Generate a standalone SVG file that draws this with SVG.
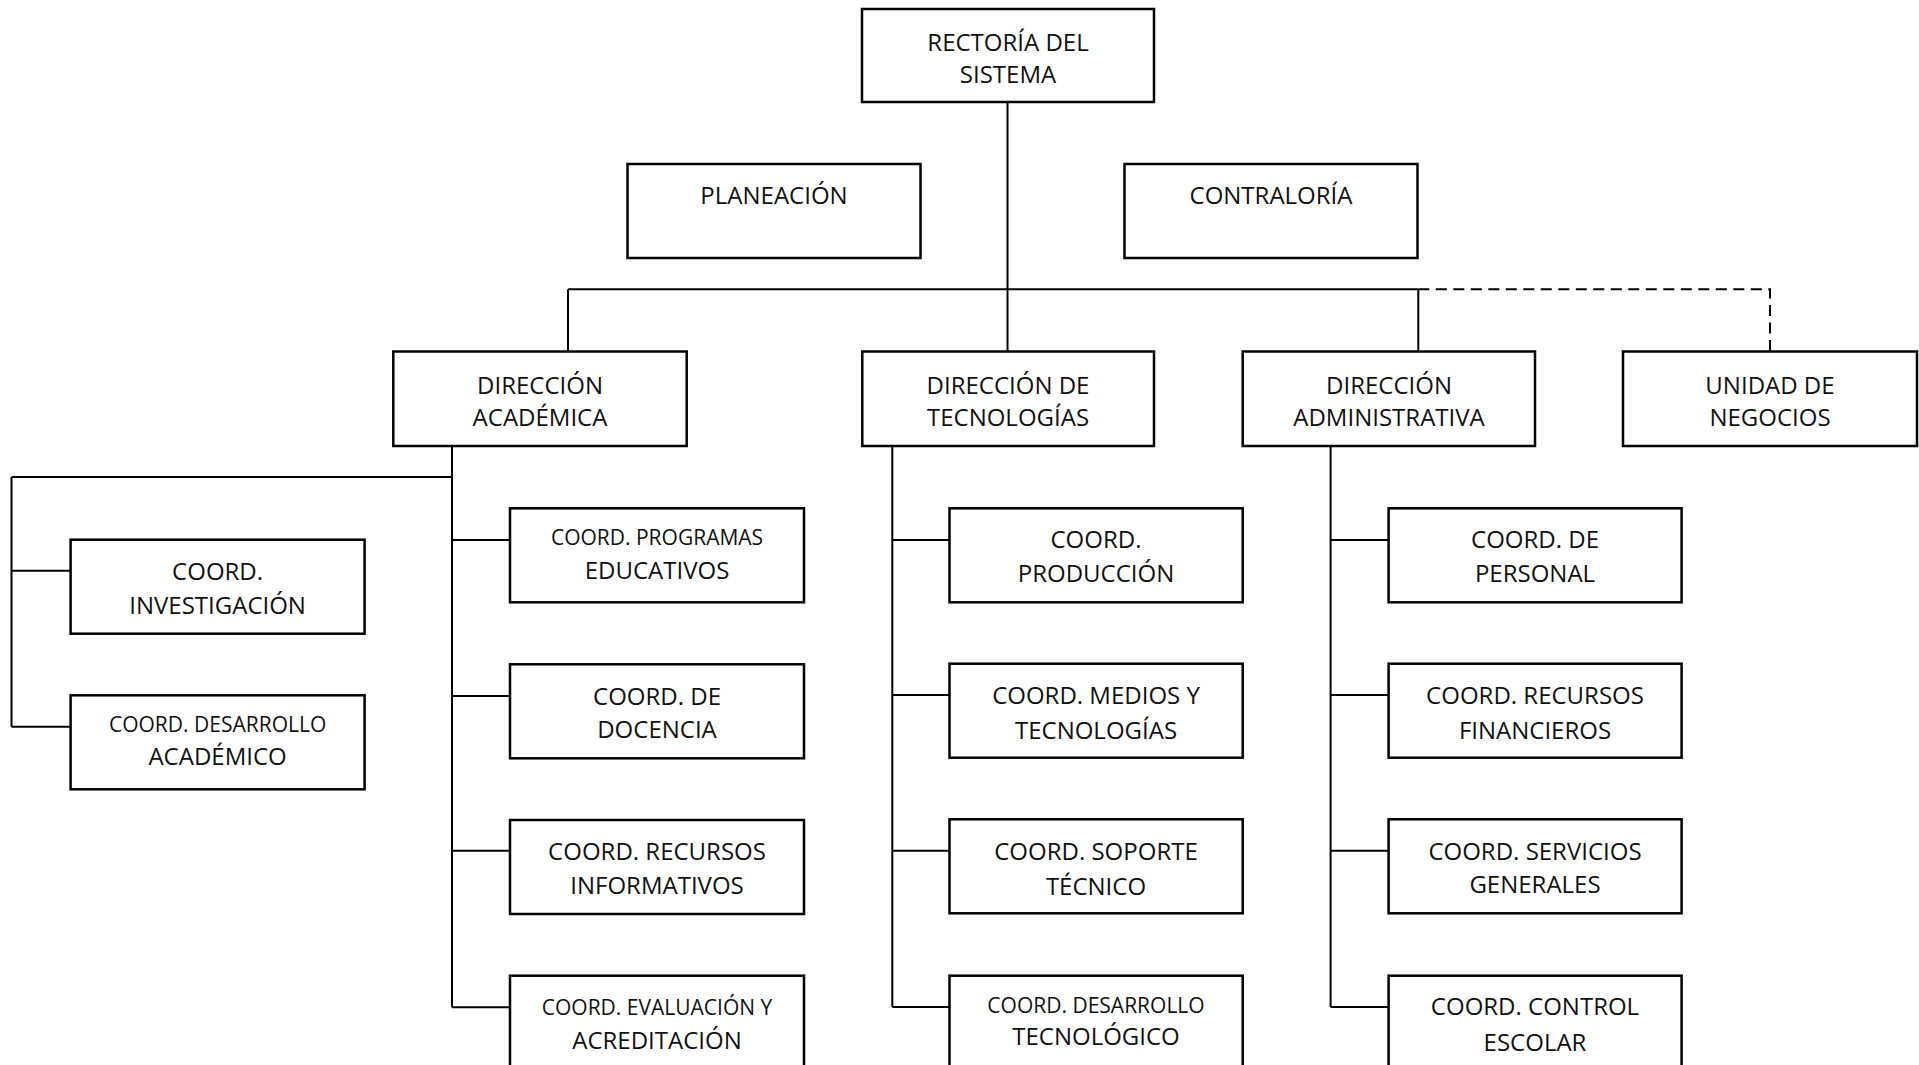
<svg xmlns="http://www.w3.org/2000/svg" width="1919" height="1065" viewBox="0 0 1919 1065">
<style>
.box{fill:#fff;stroke:#000;stroke-width:2.5}
.t{font-family:"Open Sans","Noto Sans","DejaVu Sans",sans-serif;font-size:24px;text-anchor:middle;fill:#111}
.s{font-size:21px}
.ln{stroke:#000;stroke-width:2;fill:none}
.dash{stroke-dasharray:11 6.5}
</style>
<rect width="1919" height="1065" fill="#fff"/>
<g id="connectors">
<path class="ln" d="M1007.5 102V351.5"/>
<path class="ln" d="M568 289.3H1418.3"/>
<path class="ln" d="M568 289.3V351.5"/>
<path class="ln" d="M1418.3 289.3V351.5"/>
<path class="ln dash" d="M1418.3 289.3H1770V351.5"/>
<path class="ln" d="M452 446.5V1007.3"/>
<path class="ln" d="M11.5 477H452"/>
<path class="ln" d="M11.5 477V726.7"/>
<path class="ln" d="M11.5 570.7H70.6M11.5 726.7H70.6"/>
<path class="ln" d="M452 540H510M452 696H510M452 850.7H510M452 1007.3H510"/>
<path class="ln" d="M892.3 446.5V1007"/>
<path class="ln" d="M892.3 540H949.5M892.3 695H949.5M892.3 850.7H949.5M892.3 1007H949.5"/>
<path class="ln" d="M1330.6 446.5V1007"/>
<path class="ln" d="M1330.6 540H1388.6M1330.6 695H1388.6M1330.6 850.7H1388.6M1330.6 1007H1388.6"/>
</g>
<g id="rectoria"><rect class="box" x="862" y="9" width="292" height="93"/><text class="t" x="1008" y="51">RECTORÍA DEL</text><text class="t" x="1008" y="83">SISTEMA</text></g>
<g id="planeacion"><rect class="box" x="627.5" y="164" width="293" height="94"/><text class="t" x="774" y="204">PLANEACIÓN</text></g>
<g id="contraloria"><rect class="box" x="1124.5" y="164" width="293" height="94"/><text class="t" x="1271" y="204">CONTRALORÍA</text></g>
<g id="dir-academica"><rect class="box" x="393.3" y="351.5" width="293.4" height="94.5"/><text class="t" x="540" y="393.5">DIRECCIÓN</text><text class="t" x="540" y="426">ACADÉMICA</text></g>
<g id="dir-tecnologias"><rect class="box" x="862.3" y="351.5" width="291.7" height="94.5"/><text class="t" x="1008" y="393.5">DIRECCIÓN DE</text><text class="t" x="1008" y="426">TECNOLOGÍAS</text></g>
<g id="dir-administrativa"><rect class="box" x="1242.7" y="351.5" width="292.3" height="94.5"/><text class="t" x="1389" y="393.5">DIRECCIÓN</text><text class="t" x="1389" y="426">ADMINISTRATIVA</text></g>
<g id="unidad-negocios"><rect class="box" x="1623" y="351.5" width="294" height="94.5"/><text class="t" x="1770" y="393.5">UNIDAD DE</text><text class="t" x="1770" y="426">NEGOCIOS</text></g>
<g id="coord-investigacion"><rect class="box" x="70.6" y="539.7" width="294" height="94"/><text class="t" x="217.6" y="580">COORD.</text><text class="t" x="217.6" y="613.5">INVESTIGACIÓN</text></g>
<g id="coord-desarrollo-academico"><rect class="box" x="70.6" y="695.3" width="294" height="94"/><text class="t s" x="217.6" y="731.7">COORD. DESARROLLO</text><text class="t" x="217.6" y="765">ACADÉMICO</text></g>
<g id="coord-programas"><rect class="box" x="510" y="508.3" width="294" height="94"/><text class="t s" x="657" y="545">COORD. PROGRAMAS</text><text class="t" x="657" y="578.5">EDUCATIVOS</text></g>
<g id="coord-docencia"><rect class="box" x="510" y="664.3" width="294" height="94"/><text class="t" x="657" y="705">COORD. DE</text><text class="t" x="657" y="737.5">DOCENCIA</text></g>
<g id="coord-informativos"><rect class="box" x="510" y="820" width="294" height="94"/><text class="t" x="657" y="860">COORD. RECURSOS</text><text class="t" x="657" y="893.5">INFORMATIVOS</text></g>
<g id="coord-evaluacion"><rect class="box" x="510" y="975.7" width="294" height="94"/><text class="t s" x="657" y="1015">COORD. EVALUACIÓN Y</text><text class="t" x="657" y="1048.5">ACREDITACIÓN</text></g>
<g id="coord-produccion"><rect class="box" x="949.5" y="508.3" width="293.2" height="94"/><text class="t" x="1096" y="548.3">COORD.</text><text class="t" x="1096" y="581.7">PRODUCCIÓN</text></g>
<g id="coord-medios"><rect class="box" x="949.5" y="663.7" width="293.2" height="94"/><text class="t" x="1096" y="704">COORD. MEDIOS Y</text><text class="t" x="1096" y="739">TECNOLOGÍAS</text></g>
<g id="coord-soporte"><rect class="box" x="949.5" y="819.3" width="293.2" height="94"/><text class="t" x="1096" y="860">COORD. SOPORTE</text><text class="t" x="1096" y="895">TÉCNICO</text></g>
<g id="coord-desarrollo-tecnologico"><rect class="box" x="949.5" y="975.7" width="293.2" height="94"/><text class="t s" x="1096" y="1013">COORD. DESARROLLO</text><text class="t" x="1096" y="1045">TECNOLÓGICO</text></g>
<g id="coord-personal"><rect class="box" x="1388.6" y="508.3" width="293" height="94"/><text class="t" x="1535" y="548.3">COORD. DE</text><text class="t" x="1535" y="581.7">PERSONAL</text></g>
<g id="coord-financieros"><rect class="box" x="1388.6" y="663.7" width="293" height="94"/><text class="t" x="1535" y="704">COORD. RECURSOS</text><text class="t" x="1535" y="739">FINANCIEROS</text></g>
<g id="coord-servicios"><rect class="box" x="1388.6" y="819.3" width="293" height="94"/><text class="t" x="1535" y="860">COORD. SERVICIOS</text><text class="t" x="1535" y="893.3">GENERALES</text></g>
<g id="coord-control"><rect class="box" x="1388.6" y="975.7" width="293" height="94"/><text class="t" x="1535" y="1015">COORD. CONTROL</text><text class="t" x="1535" y="1051">ESCOLAR</text></g>
</svg>
